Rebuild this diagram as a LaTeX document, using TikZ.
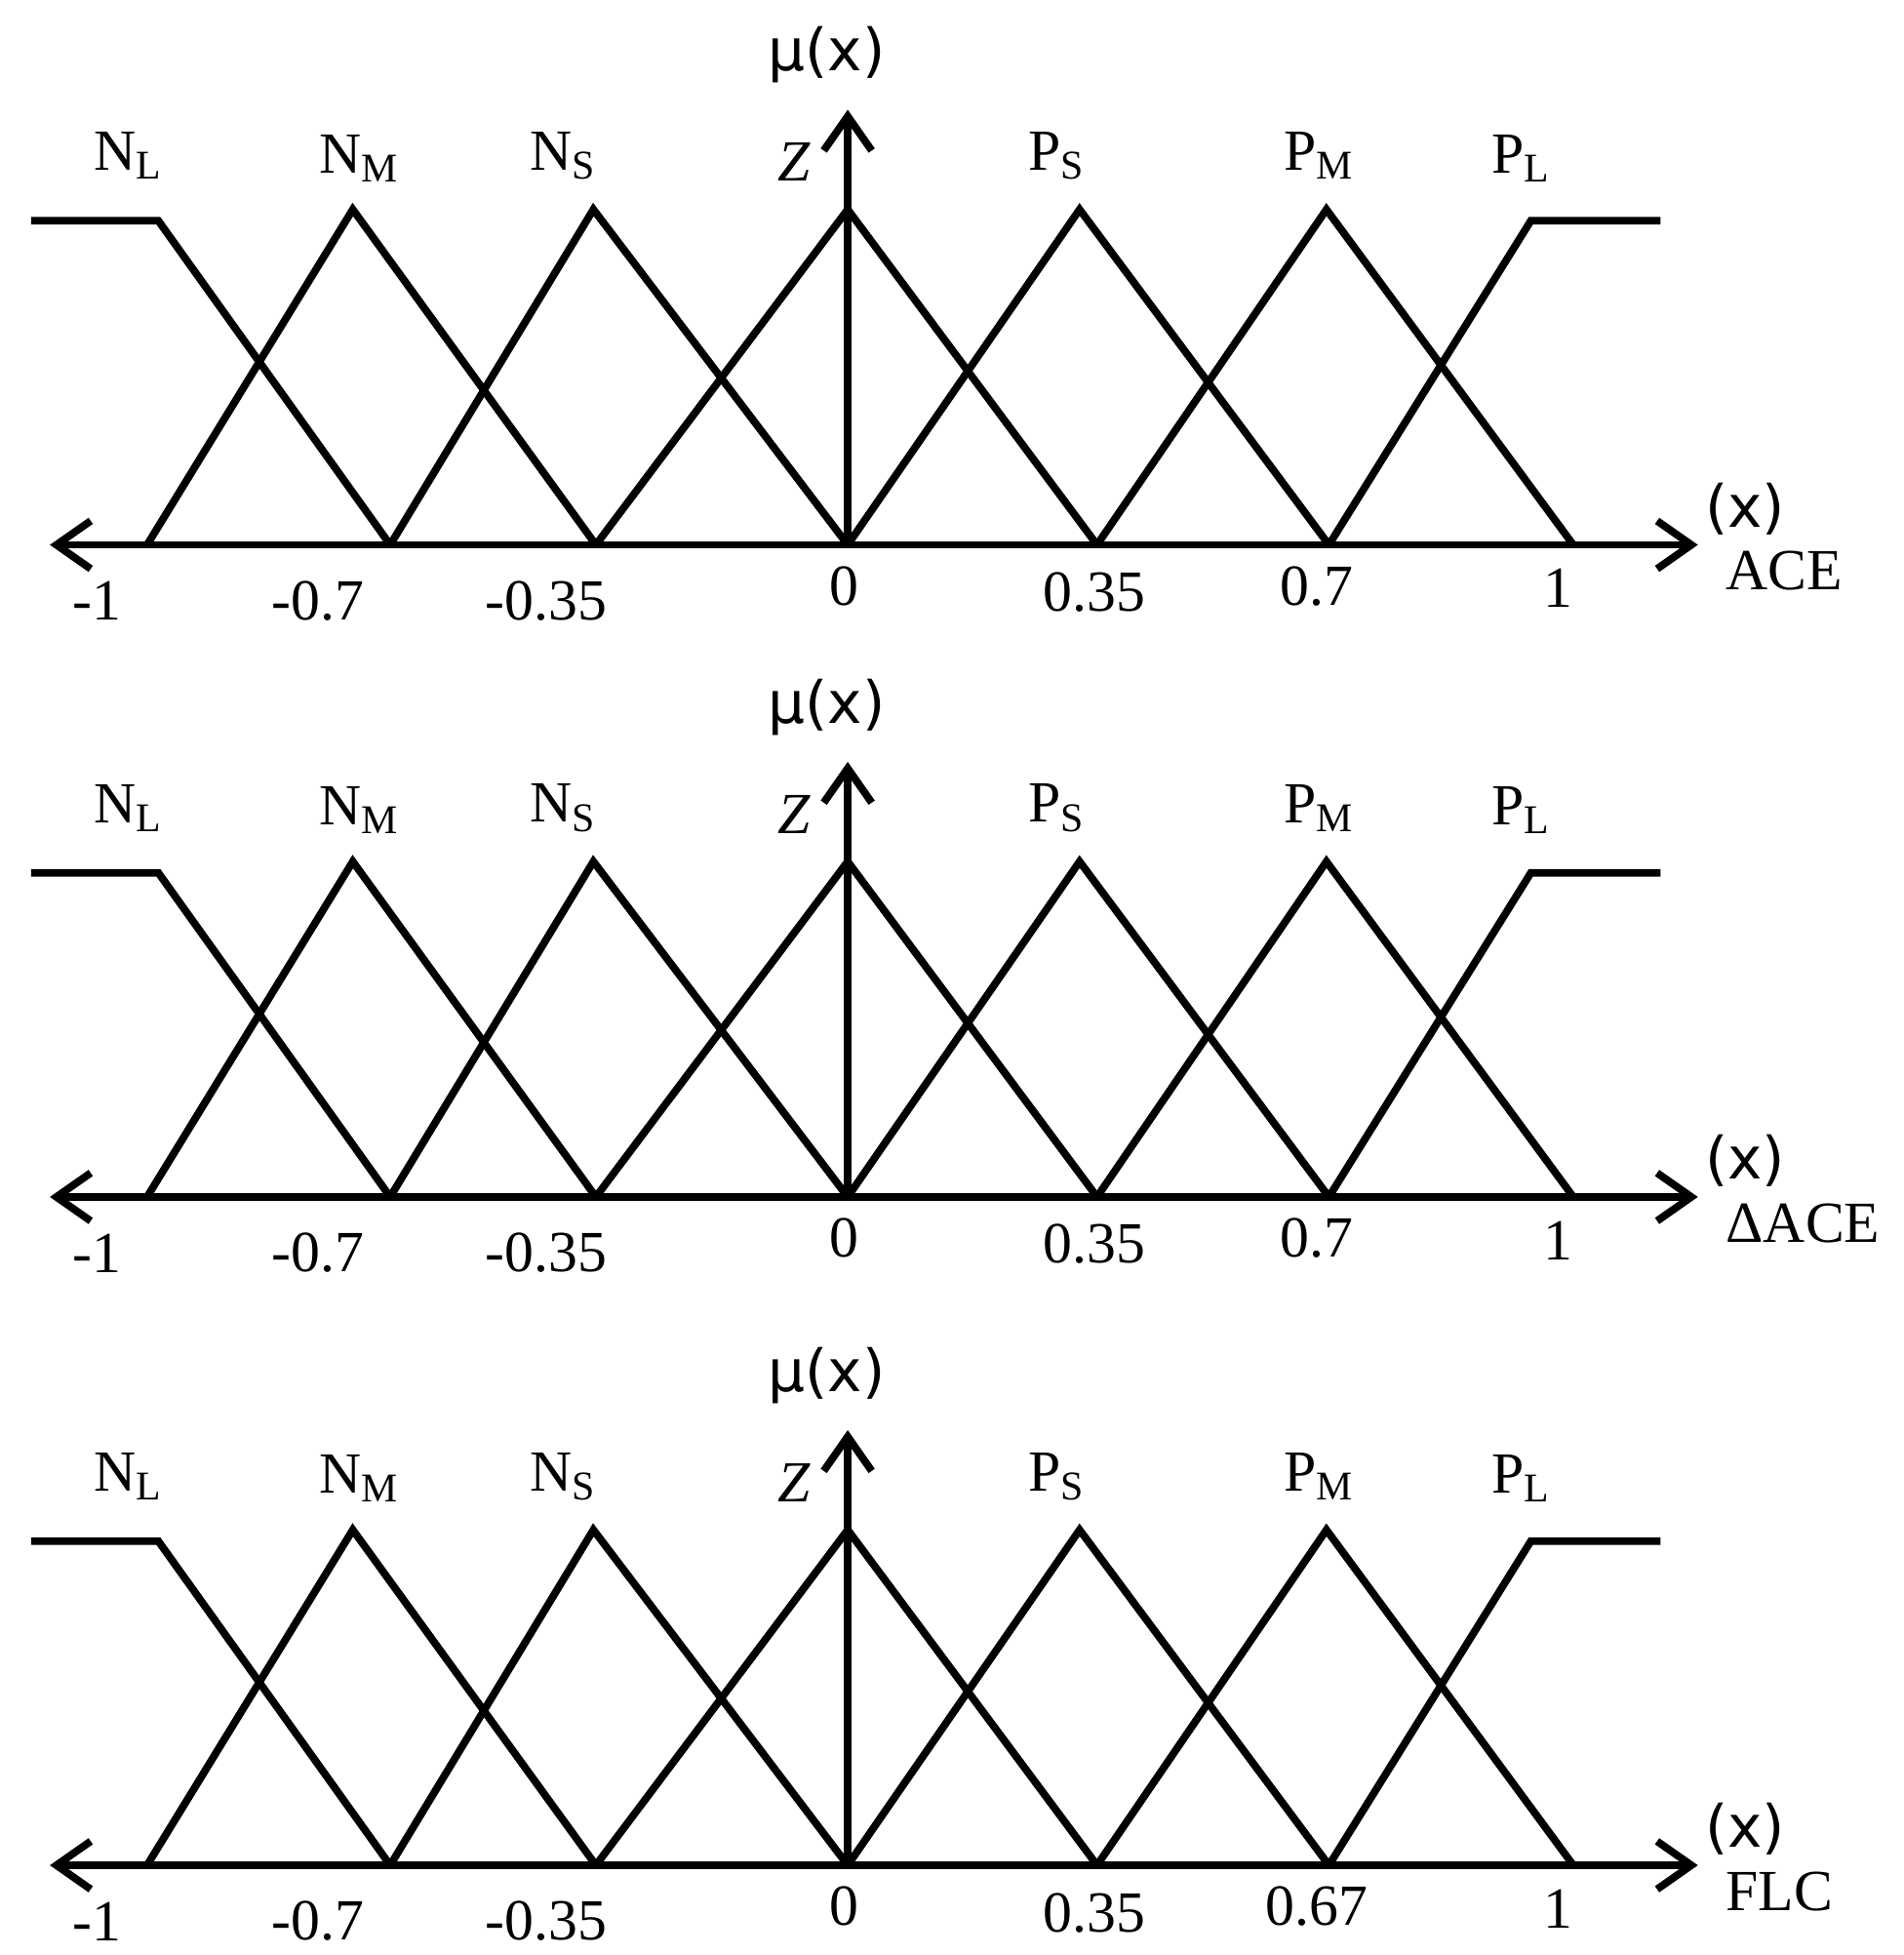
\documentclass[tikz,border=0pt]{standalone}
\usepackage{fontspec}
\setmainfont{Liberation Serif}
\newfontfamily\sanf{DejaVu Sans}
\usetikzlibrary{arrows.meta}
\tikzset{mf/.style={line width=2.2pt,line join=miter},
ax/.style={line width=2.2pt,{Stealth[length=12pt,width=12pt,open,fill=none]}-{Stealth[length=12pt,width=12pt,open,fill=none]}},
lab/.style={font=\fontsize{17}{20}\selectfont,inner sep=0pt}}
\newcommand{\panel}[4]{%
\begin{scope}[shift={(0,#1)}]
\draw[mf] (25,177)--(127,177)--(313,437);
\draw[mf] (118,437)--(283,168)--(478,437);
\draw[mf] (313,437)--(476,168)--(680,437);
\draw[mf] (478,437)--(680,168)--(880,437);
\draw[mf] (680,437)--(866,168)--(1066,437);
\draw[mf] (880,437)--(1064,168)--(1262,437);
\draw[mf] (1066,437)--(1228,177)--(1332,177);
\draw[line width=2.2pt,-{Straight Barb[length=10pt,width=14pt]}] (680,437)--(680,88);
\draw[line width=2.2pt,{Straight Barb[length=10pt,width=14pt]}-{Straight Barb[length=10pt,width=14pt]}] (40,437)--(1362,437);
\node[lab] (mu#4) at (663,44) {\sanf μ(x)};
\node[lab] (nl#4) at (103,125) {N\textsubscript{L}};
\node[lab] (nm#4) at (288,127) {N\textsubscript{M}};
\node[lab] (ns#4) at (452,125) {N\textsubscript{S}};
\node[lab] (z#4) at (637,130) {\textit{Z}};
\node[lab] (ps#4) at (848,125) {P\textsubscript{S}};
\node[lab] (pm#4) at (1058,125) {P\textsubscript{M}};
\node[lab] (pl#4) at (1220,127) {P\textsubscript{L}};
\node[lab] (xx#4) at (1400,408) {\sanf(x)};
\node[lab,anchor=west] (nm2#4) at (1384,458) {#2};
\node[lab] (t1#4) at (78,482) {-1};
\node[lab] (t2#4) at (255,482) {-0.7};
\node[lab] (t3#4) at (438,482) {-0.35};
\node[lab] (t4#4) at (677,470) {0};
\node[lab] (t5#4) at (878,475) {0.35};
\node[lab] (t6#4) at (1056,470) {#3};
\node[lab] (t7#4) at (1250,472) {1};
\end{scope}}
\begin{document}
\begin{tikzpicture}[x=0.01279cm,y=-0.01279cm]
\useasboundingbox (0,0) rectangle (1527,1568);
\panel{0}{ACE}{0.7}{a}
\panel{523}{ΔACE}{0.7}{b}
\panel{1059}{FLC}{0.67}{c}
\end{tikzpicture}
\end{document}
